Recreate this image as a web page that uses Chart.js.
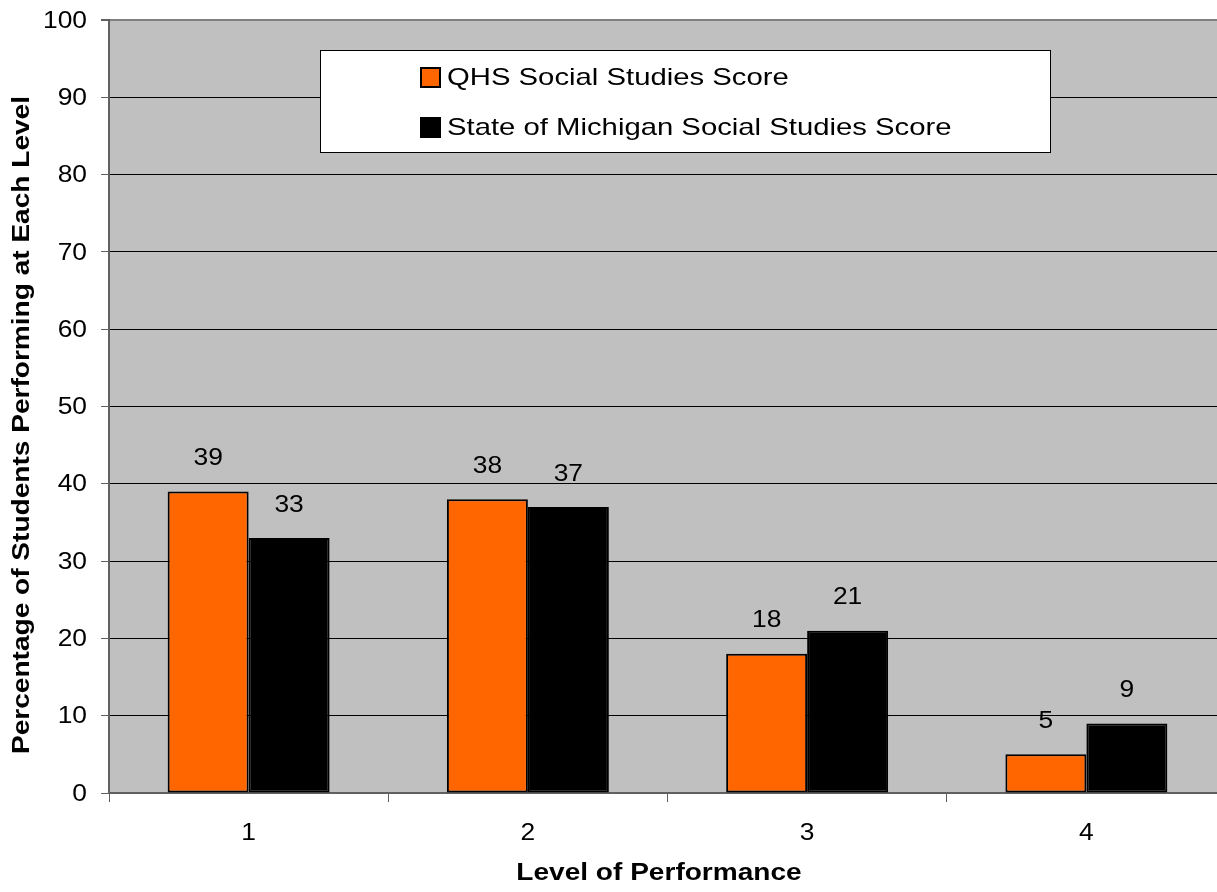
<!DOCTYPE html>
<html lang="en">
<head>
    <meta charset="UTF-8">
    <title>Social Studies Levels</title>
    <script src="https://cdn.jsdelivr.net/npm/chart.js"></script>
    <style>
        html, body { margin: 0; padding: 0; background: #fff; overflow: hidden; }
        .chart-box { width: 1226px; height: 892px; }
    </style>
</head>
<body>
<div class="chart-box">
    <canvas id="bar-chart"></canvas>
</div>

<script>
    // data
    const levels = ['1', '2', '3', '4'];
    const qhsScores = [39, 38, 18, 5];
    const michiganScores = [33, 37, 21, 9];
    const seriesNames = ['QHS Social Studies Score', 'State of Michigan Social Studies Score'];
    const yTicks = [0, 10, 20, 30, 40, 50, 60, 70, 80, 90, 100];
    const xTitle = 'Level of Performance';
    const yTitle = 'Percentage of Students Performing at Each Level';

    const FONT = '"Liberation Sans", Arial, sans-serif';
    const WIDE = 1.22;   // the original text is drawn wider than Arial
    const WIDE_DIGITS = 1.1;

    // draw text stretched horizontally around (x, y)
    function wideText(ctx, text, x, y, align, stretch, angle) {
        ctx.save();
        ctx.translate(x, y);
        if (angle) ctx.rotate(angle);
        ctx.scale(stretch, 1);
        ctx.textAlign = align;
        ctx.textBaseline = 'middle';
        ctx.fillText(text, 0, 0);
        ctx.restore();
    }

    // grey plot background
    const plotBackground = {
        id: 'plotBackground',
        beforeDraw(chart) {
            const {ctx, chartArea: a} = chart;
            ctx.save();
            ctx.fillStyle = '#c0c0c0';
            ctx.fillRect(a.left, a.top, a.right - a.left, a.bottom - a.top);
            ctx.restore();
        }
    };

    // numbers above bars
    const valueLabels = {
        id: 'valueLabels',
        afterDatasetsDraw(chart) {
            const ctx = chart.ctx;
            ctx.save();
            ctx.font = '24px ' + FONT;
            ctx.fillStyle = '#000';
            chart.data.datasets.forEach((ds, i) => {
                chart.getDatasetMeta(i).data.forEach((bar, j) => {
                    wideText(ctx, String(ds.data[j]), bar.x, bar.y - 33, 'center', WIDE_DIGITS);
                });
            });
            ctx.restore();
        }
    };

    // tick labels and axis titles
    const axisText = {
        id: 'axisText',
        afterDraw(chart) {
            const {ctx, chartArea: a, scales} = chart;
            ctx.save();
            ctx.fillStyle = '#000';
            ctx.font = '24px ' + FONT;
            yTicks.forEach(v => {
                wideText(ctx, String(v), a.left - 22, scales.y.getPixelForValue(v) + 1, 'right', WIDE_DIGITS);
            });
            levels.forEach((lab, i) => {
                wideText(ctx, lab, scales.x.getPixelForValue(i), a.bottom + 40, 'center', WIDE_DIGITS);
            });
            ctx.font = 'bold 23px ' + FONT;
            wideText(ctx, xTitle, 659, a.bottom + 81, 'center', WIDE);
            wideText(ctx, yTitle, 23, 425, 'center', WIDE, -Math.PI / 2);
            ctx.restore();
        }
    };

    // boxed legend inside the plot
    const boxLegend = {
        id: 'boxLegend',
        afterDraw(chart) {
            const {ctx, chartArea: a} = chart;
            const x = a.left + 211, y = a.top + 30, w = 730, h = 102;
            ctx.save();
            ctx.fillStyle = '#fff';
            ctx.fillRect(x, y, w, h);
            ctx.strokeStyle = '#000';
            ctx.lineWidth = 1;
            ctx.strokeRect(x + 0.5, y + 0.5, w, h);
            ctx.font = '24px ' + FONT;
            chart.data.datasets.forEach((ds, i) => {
                const rowY = y + 27 + i * 50;
                ctx.fillStyle = ds.backgroundColor;
                ctx.fillRect(x + 101, rowY - 9, 19, 19);
                ctx.strokeStyle = '#000';
                ctx.lineWidth = 2;
                ctx.strokeRect(x + 101, rowY - 9, 19, 19);
                ctx.fillStyle = '#000';
                wideText(ctx, ds.label, x + 127, rowY + 1, 'left', WIDE);
            });
            ctx.restore();
        }
    };

    const chart = new Chart(document.getElementById('bar-chart'), {
        type: 'bar',
        data: {
            labels: levels,
            datasets: [{
                label: seriesNames[0],
                data: qhsScores,
                backgroundColor: '#ff6600',
                borderColor: '#000',
                borderWidth: 2,
                borderSkipped: false
            }, {
                label: seriesNames[1],
                data: michiganScores,
                backgroundColor: '#000000',
                borderColor: '#000',
                borderWidth: 2,
                borderSkipped: false
            }]
        },
        options: {
            responsive: true,
            maintainAspectRatio: false,
            animation: false,
            layout: {padding: {top: 20, right: 0, left: 0, bottom: 0}},
            datasets: {bar: {categoryPercentage: 0.58, barPercentage: 1}},
            plugins: {
                legend: {display: false},
                tooltip: {enabled: false}
            },
            scales: {
                x: {
                    grid: {
                        offset: true,
                        drawOnChartArea: false,
                        color: '#606060',
                        tickLength: 9
                    },
                    border: {color: '#606060', width: 2},
                    ticks: {display: false},
                    afterFit(scale) { scale.height = 99; }
                },
                y: {
                    min: 0,
                    max: 100,
                    afterBuildTicks(scale) {
                        scale.ticks = yTicks.map(v => ({value: v}));
                    },
                    grid: {
                        color: ctx => ctx.tick && ctx.tick.value === 100 ? '#808080' : '#000',
                        lineWidth: ctx => ctx.tick && ctx.tick.value === 100 ? 2 : 1,
                        tickLength: 8,
                        tickColor: '#606060'
                    },
                    border: {color: '#606060', width: 2},
                    ticks: {display: false},
                    afterFit(scale) { scale.width = 109; }
                }
            }
        },
        plugins: [plotBackground, valueLabels, axisText, boxLegend]
    });
</script>
</body>
</html>
